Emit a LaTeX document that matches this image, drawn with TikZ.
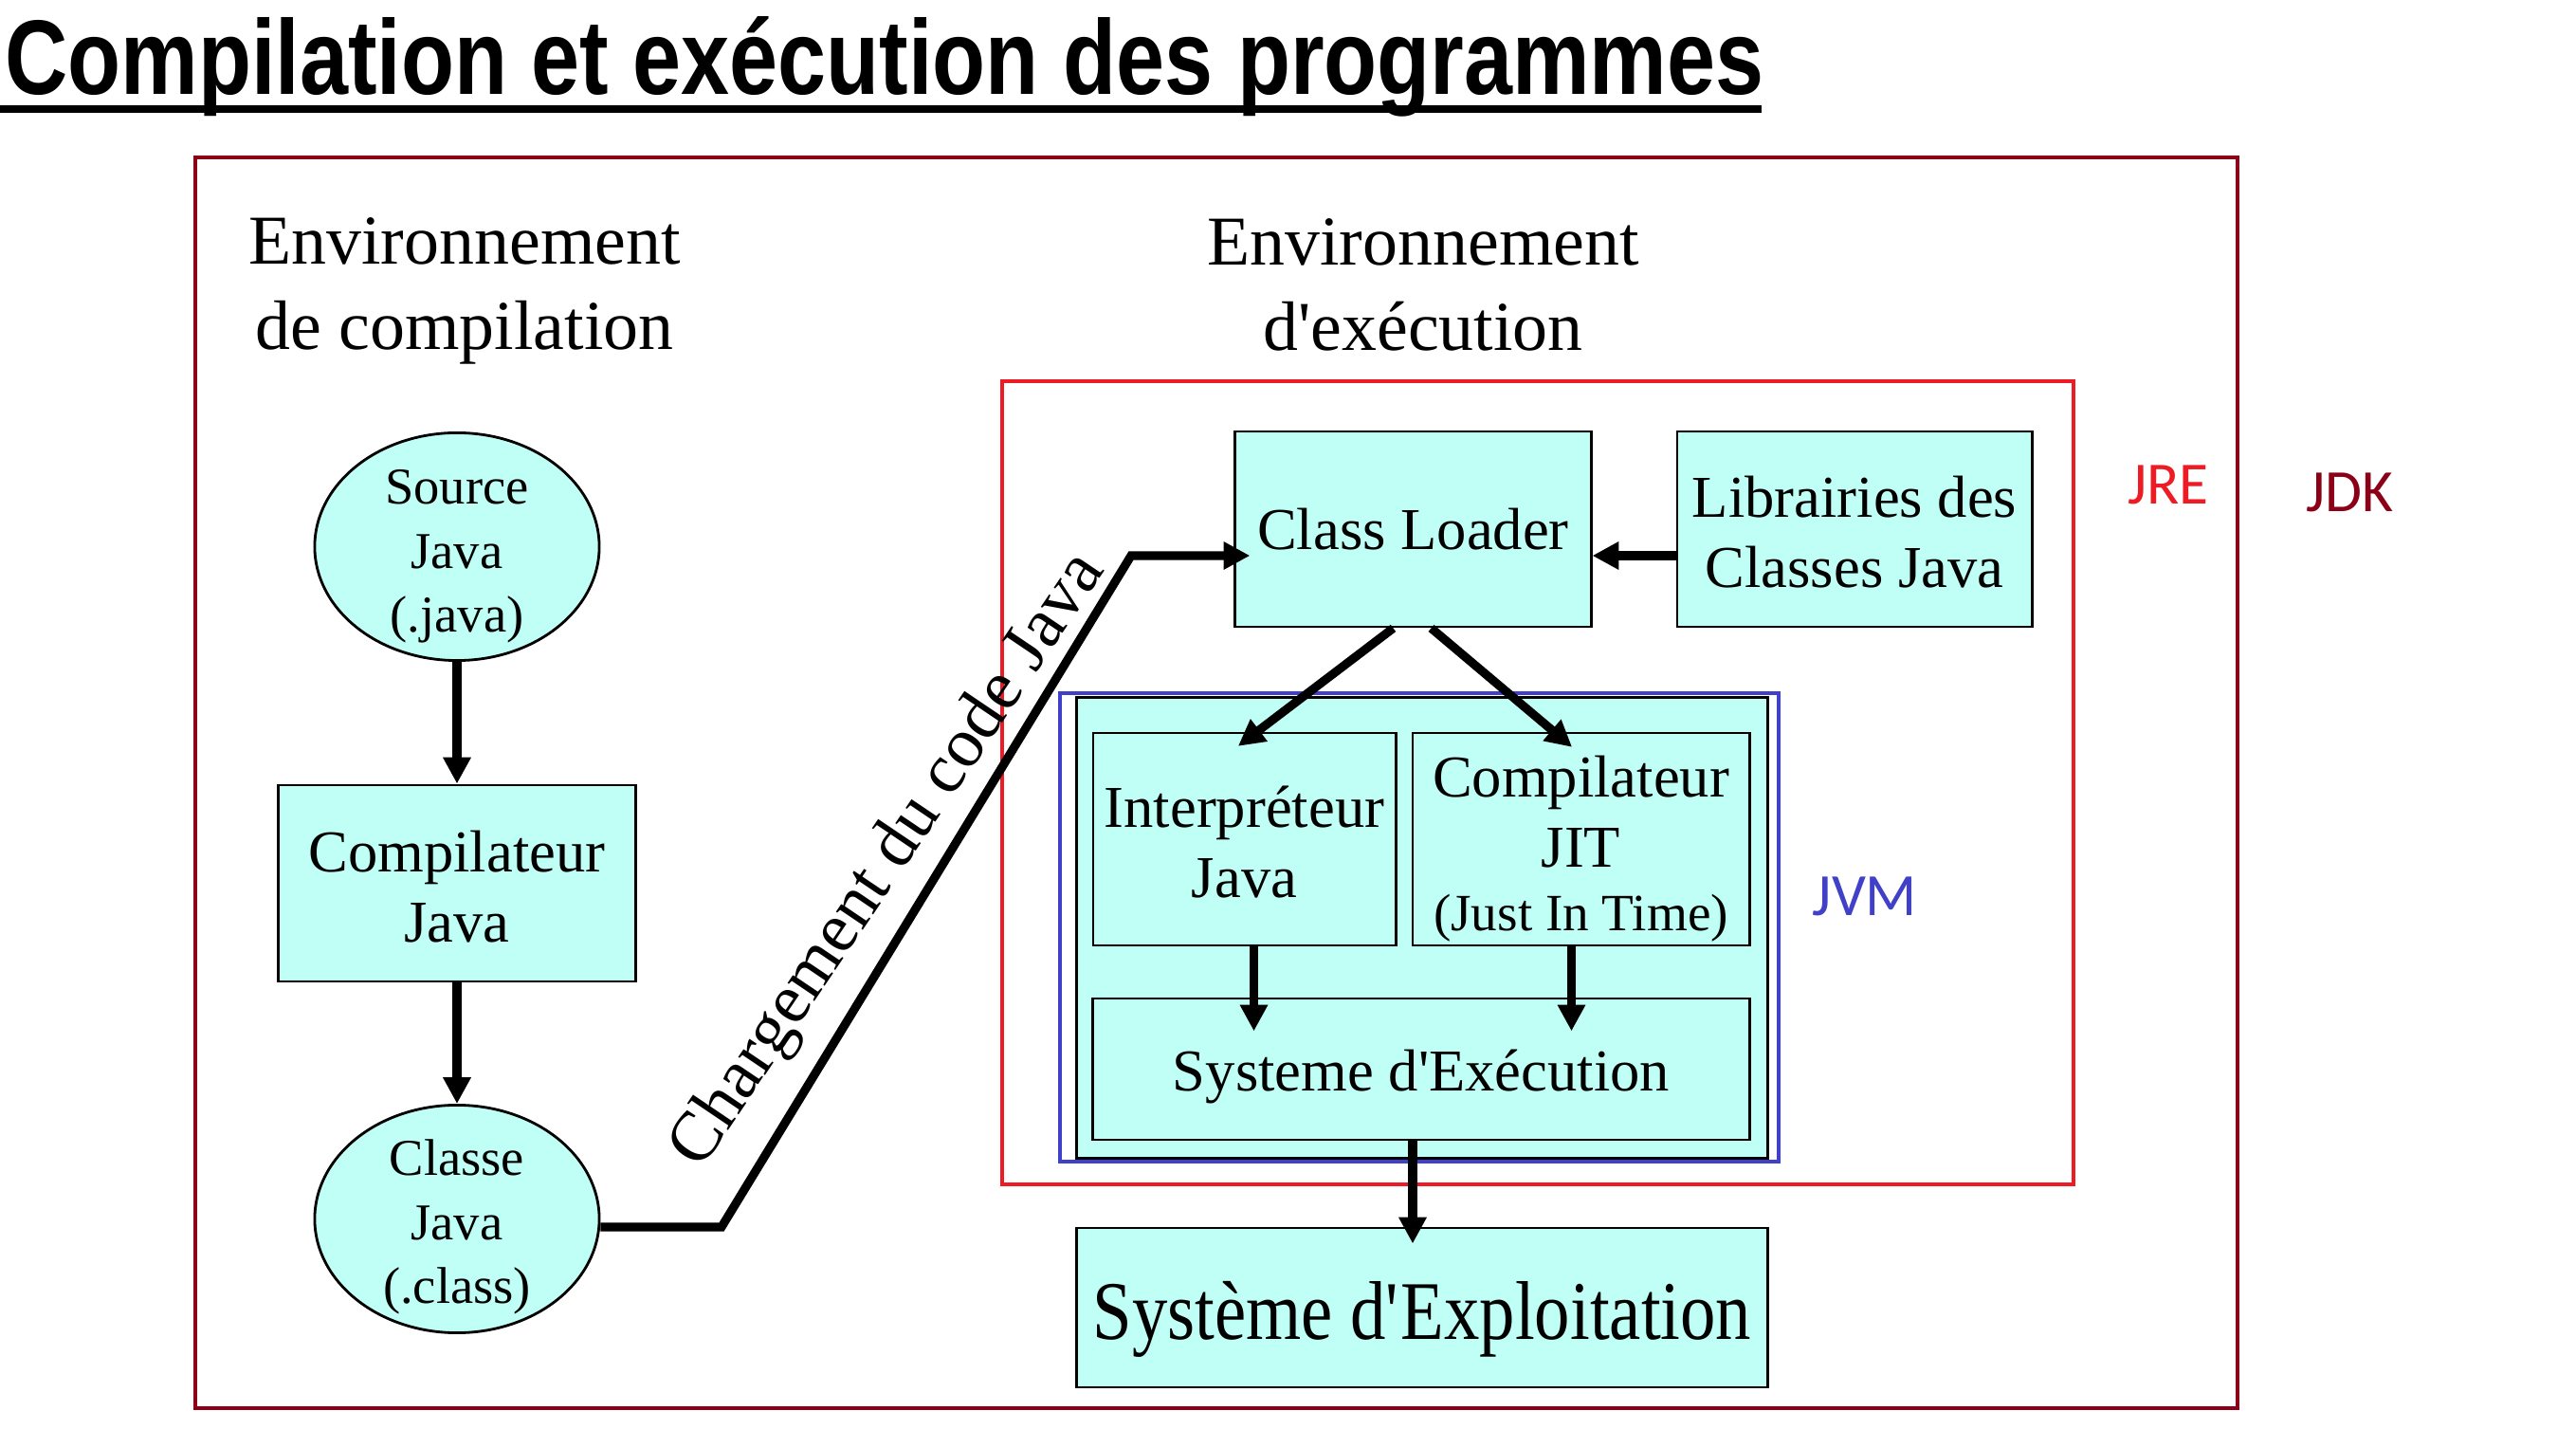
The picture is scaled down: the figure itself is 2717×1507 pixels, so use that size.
\documentclass[tikz,border=0pt]{standalone}
\usepackage{fontspec}
\setmainfont{Liberation Serif}
\newfontfamily\titlefont[FakeStretch=0.82]{Liberation Sans}
\newfontfamily\tagfont{Carlito}
\newfontfamily\narrowserif[FakeStretch=0.85]{Liberation Serif}
\usetikzlibrary{arrows.meta,shapes.geometric}
\definecolor{jdkred}{RGB}{139,0,23}
\definecolor{jrered}{RGB}{237,28,36}
\definecolor{jvmblue}{RGB}{64,64,200}
\definecolor{boxcyan}{RGB}{191,255,246}
% strut to push the text of a box down
\newcommand{\topstrut}[1]{\rule{0pt}{#1}}

\begin{document}
\begin{tikzpicture}[x=0.01cm, y=-0.01cm,
		box_style/.style={rectangle,draw=black,line width=0.8pt,fill=boxcyan,inner sep=0pt,align=center,font=\fontsize{17.8}{21}\selectfont},
		oval_style/.style={ellipse,draw=black,line width=0.8pt,fill=boxcyan,inner xsep=0pt,inner ysep=-6pt,minimum width=3cm,minimum height=2.4cm,align=center,font=\fontsize{15.5}{19.2}\selectfont},
		edge_style/.style={draw=black,line width=2.6pt,-{Triangle[length=7.9pt,width=7.9pt]}},
		frame_style/.style={line width=1.3pt},
		head_style/.style={align=center,font=\fontsize{21}{25.6}\selectfont},
		tag_style/.style={font=\tagfont\fontsize{18}{21}\selectfont}]
		
		\useasboundingbox (0,0) rectangle (2717,1507);
		
		% titre
		\node[anchor=base west,inner sep=0pt,font=\titlefont\bfseries\fontsize{31.8}{36}\selectfont] (title) at (5,100) {Compilation et exécution des programmes};
		\draw[line width=2.2pt] (0,115) -- (1858,115);
		
		% JDK, JRE, JVM
		\draw[frame_style,jdkred] (206,166) rectangle (2360,1485);
		\draw[frame_style,jrered] (1057,402) rectangle (2187,1249);
		\node[box_style,minimum width=7.28cm,minimum height=4.85cm] (jvmbox) at (1500,978.5) {};
		\draw[frame_style,jvmblue] (1118,731) rectangle (1876,1225);
		
		\node[head_style] (envc) at (490,307) {Environnement\\de compilation};
		\node[head_style] (envx) at (1501,300) {Environnement\\d\textquotesingle exécution};
		
		\node[oval_style] (src) at (482,576.5) {\topstrut{16.2pt}Source\\Java\\(.java)};
		\node[box_style,minimum width=3.76cm,minimum height=2.07cm] (javac) at (482,931.5) {\topstrut{14.6pt}Compilateur\\Java};
		\node[oval_style] (cls) at (482,1285.5) {\topstrut{15.8pt}Classe\\Java\\(.class)};
		
		\node[box_style,minimum width=3.75cm,minimum height=2.06cm] (loader) at (1490.5,558) {Class Loader};
		\node[box_style,minimum width=3.74cm,minimum height=2.06cm] (libs) at (1956,558) {\topstrut{14.2pt}Librairies des\\Classes Java};
		\node[box_style,minimum width=3.19cm,minimum height=2.24cm] (interp) at (1312.5,885) {\topstrut{14.2pt}Interpréteur\\Java};
		\node[box_style,minimum width=3.55cm,minimum height=2.24cm] (jit) at (1667.5,885) {\topstrut{18.3pt}Compilateur\\JIT\\[-2pt]{\fontsize{15.7}{18}\selectfont(Just In Time)}};
		\node[box_style,minimum width=6.92cm,minimum height=1.49cm] (exec) at (1499,1127.5) {\topstrut{16.7pt}Systeme d\textquotesingle Exécution};
		\node[box_style,minimum width=7.28cm,minimum height=1.68cm,font=\narrowserif\fontsize{25}{30}\selectfont] (os) at (1500,1379) {\topstrut{24.5pt}Système d\textquotesingle Exploitation};
		
		\node[tag_style,jrered] (jre) at (2287,511) {JRE};
		\node[tag_style,jdkred] (jdk) at (2478,519) {JDK};
		\node[tag_style,jvmblue] (jvm) at (1967,945) {JVM};
		
		\coordinate (bend1) at (761,1294);
		\coordinate (bend2) at (1193,586);
		\node[rotate=56,inner sep=0pt,font=\fontsize{21.1}{25}\selectfont] (charge) at (938,908) {Chargement du code Java};
		
		\draw[edge_style]  (src) edge (javac);
		\draw[edge_style]  (javac) edge (cls);
		\draw[edge_style,shorten >=-4.8pt]  (cls.east |- bend1) -- (bend1) -- (bend2) -- (loader.west |- bend2);
		\draw[edge_style]  (libs.west |- bend2) -- (loader.east |- bend2);
		\draw[edge_style,shorten >=-7.2pt]  ([xshift=-0.21cm]loader.south) -- ([xshift=0.135cm]interp.north);
		\draw[edge_style,shorten >=-7.2pt]  ([xshift=0.19cm]loader.south) -- ([xshift=-0.287cm]jit.north);
		\draw[edge_style,shorten >=-10.2pt]  ([xshift=0.1cm]interp.south) -- ([xshift=0.1cm]interp.south |- exec.north);
		\draw[edge_style,shorten >=-10.2pt]  ([xshift=-0.1cm]jit.south) -- ([xshift=-0.1cm]jit.south |- exec.north);
		\draw[edge_style,shorten >=-5.1pt]  ([xshift=-0.09cm]exec.south) -- ([xshift=-0.09cm]exec.south |- os.north);
		
\end{tikzpicture}
\end{document}
